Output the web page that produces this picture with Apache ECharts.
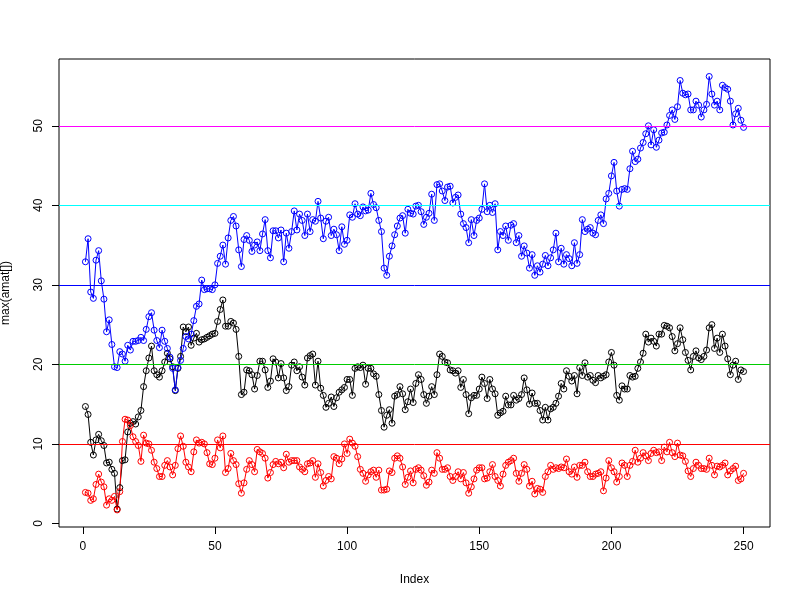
<!DOCTYPE html>
<html>
<head>
<meta charset="utf-8">
<script src="https://cdn.jsdelivr.net/npm/echarts@6/dist/echarts.min.js"></script>
<style>
  html, body { margin: 0; padding: 0; background: #fff; }
  #chart { width: 800px; height: 600px; }
</style>
</head>
<body>
<div id="chart"></div>
<script>
// three series, index 1..250
const blackVals = [
  14.7, 13.7, 10.2, 8.6, 10.5, 11.2, 10.4, 9.8, 7.6, 7.7,
  6.8, 6.3, 1.8, 4.5, 7.9, 8.0, 11.5, 12.6, 12.8, 12.5,
  13.4, 14.2, 17.2, 19.2, 20.8, 22.3, 19.2, 18.7, 18.4, 19.2,
  20.3, 21.4, 20.7, 19.7, 16.7, 19.5, 21.0, 24.7, 24.1, 24.7,
  22.4, 23.3, 23.9, 22.8, 23.1, 23.2, 23.4, 23.6, 23.8, 23.9,
  25.4, 26.9, 28.1, 24.8, 24.8, 25.4, 25.2, 24.4, 21.0, 16.2,
  16.5, 19.3, 19.2, 18.7, 16.9, 18.6, 20.4, 20.4, 19.3, 17.1,
  17.9, 20.7, 20.3, 18.3, 20.1, 18.3, 16.7, 17.2, 19.9, 20.3,
  19.2, 19.7, 18.4, 17.4, 20.8, 21.1, 21.3, 17.4, 20.4, 17.0,
  16.1, 14.6, 15.1, 15.9, 14.7, 15.8, 16.5, 16.8, 17.1, 18.1,
  18.1, 16.1, 19.5, 19.7, 19.6, 19.9, 17.5, 19.5, 19.5, 18.8,
  18.5, 16.2, 14.2, 12.1, 13.6, 14.3, 12.6, 16.0, 16.2, 17.2,
  16.3, 14.3, 15.3, 16.9, 15.2, 17.6, 18.7, 18.1, 16.2, 15.1,
  16.0, 17.2, 16.2, 18.7, 21.3, 21.0, 20.3, 20.2, 19.3, 19.2,
  18.9, 19.2, 17.1, 18.1, 16.2, 13.8, 15.8, 16.1, 16.1, 16.9,
  18.4, 17.6, 15.7, 18.1, 16.9, 16.3, 13.6, 13.9, 14.1, 16.0,
  14.9, 14.9, 16.1, 15.5, 15.7, 16.2, 18.3, 16.8, 15.0, 16.4,
  15.1, 15.1, 14.2, 13.0, 14.6, 13.0, 14.4, 14.6, 15.1, 16.0,
  17.6, 16.9, 19.2, 18.5, 17.9, 18.6, 16.3, 19.6, 18.6, 20.2,
  18.4, 18.6, 18.0, 17.7, 18.6, 18.3, 18.5, 18.7, 20.3, 21.5,
  19.9, 16.1, 15.5, 17.3, 16.9, 16.9, 18.6, 18.4, 18.5, 19.5,
  20.3, 21.4, 23.8, 22.8, 23.3, 22.9, 22.3, 23.8, 23.8, 24.9,
  24.8, 24.6, 23.5, 21.7, 22.6, 24.6, 23.1, 21.5, 20.5, 19.3,
  21.0, 21.7, 20.8, 20.6, 21.0, 21.8, 24.6, 25.0, 22.0, 23.3,
  21.5, 23.8, 22.3, 20.7, 18.7, 19.9, 20.4, 18.1, 19.3, 19.1
];

const redVals = [
  3.9, 3.8, 2.9, 3.1, 4.9, 6.2, 5.2, 4.6, 2.3, 3.1,
  2.9, 3.4, 1.7, 4.0, 10.3, 13.1, 13.0, 12.3, 10.9, 10.3,
  9.8, 7.8, 11.1, 10.1, 10.0, 9.2, 7.7, 6.9, 5.9, 5.9,
  7.3, 7.9, 7.1, 6.1, 7.3, 9.4, 11.0, 9.7, 7.7, 7.1,
  6.5, 9.0, 10.5, 10.1, 10.2, 10.0, 8.9, 7.5, 7.4, 8.2,
  10.5, 9.5, 11.0, 6.4, 6.9, 8.8, 7.9, 7.4, 5.0, 3.8,
  5.1, 6.8, 7.9, 7.4, 6.5, 9.3, 9.0, 8.8, 8.2, 5.7,
  6.4, 7.4, 7.8, 7.5, 7.7, 7.0, 8.7, 7.7, 7.9, 7.9,
  7.9, 7.1, 6.8, 6.5, 7.5, 7.6, 7.9, 5.8, 7.5, 6.4,
  4.7, 5.4, 5.9, 5.6, 8.4, 8.2, 7.5, 8.1, 10.0, 8.8,
  10.6, 10.1, 9.7, 8.4, 6.8, 6.3, 5.3, 6.1, 6.5, 6.7,
  5.8, 6.7, 4.2, 4.2, 4.3, 6.6, 6.4, 8.2, 8.5, 8.2,
  7.1, 4.9, 5.8, 6.6, 5.1, 6.8, 7.0, 6.7, 6.0, 4.8,
  5.2, 6.7, 6.3, 8.9, 8.2, 6.8, 6.8, 7.0, 5.9, 5.4,
  5.9, 6.5, 5.6, 6.4, 5.1, 3.8, 4.6, 5.6, 6.7, 7.0,
  7.0, 5.6, 5.7, 6.5, 7.4, 5.9, 5.4, 4.7, 6.2, 7.3,
  7.7, 7.9, 8.2, 6.3, 5.3, 6.3, 7.4, 6.8, 4.7, 5.3,
  3.7, 4.4, 4.3, 3.9, 5.9, 6.5, 7.3, 6.8, 7.0, 6.9,
  7.1, 7.0, 8.1, 6.5, 6.2, 7.1, 5.8, 7.3, 7.3, 7.7,
  6.5, 5.9, 5.9, 6.2, 6.3, 6.5, 4.1, 5.7, 7.9, 7.0,
  6.5, 5.2, 5.9, 7.6, 7.3, 5.9, 7.3, 7.8, 9.2, 7.7,
  8.2, 8.9, 8.5, 7.9, 8.8, 9.2, 8.9, 9.0, 7.9, 9.6,
  9.0, 10.2, 8.9, 8.4, 10.1, 8.6, 8.5, 7.8, 6.6, 5.9,
  6.9, 7.7, 7.3, 6.9, 6.9, 6.8, 8.2, 7.3, 6.1, 7.2,
  7.1, 7.3, 7.6, 6.1, 6.6, 6.9, 7.2, 5.4, 5.6, 6.3
];

const blueVals = [
  32.9, 35.8, 29.1, 28.3, 33.1, 34.3, 30.5, 28.2, 24.1, 25.6,
  22.5, 19.7, 19.6, 21.6, 21.3, 20.4, 22.4, 21.8, 22.9, 22.9,
  23.0, 23.4, 23.0, 24.4, 26.0, 26.5, 24.3, 23.0, 22.1, 24.3,
  22.9, 22.0, 20.9, 19.5, 16.8, 19.6, 20.5, 22.0, 23.5, 23.2,
  23.8, 25.5, 27.3, 27.6, 30.6, 29.4, 29.5, 29.5, 29.4, 30.0,
  32.7, 33.6, 35.0, 32.6, 35.9, 38.1, 38.6, 37.4, 34.4, 32.3,
  35.7, 36.2, 35.6, 34.2, 35.0, 35.4, 34.3, 36.4, 38.2, 34.3,
  33.4, 36.8, 36.8, 35.9, 36.9, 32.9, 36.5, 34.6, 36.7, 39.3,
  36.9, 38.9, 38.1, 36.2, 38.9, 36.7, 38.2, 38.0, 40.5, 38.4,
  35.8, 38.0, 38.5, 36.2, 37.0, 36.3, 34.3, 37.3, 35.1, 35.6,
  38.8, 38.5, 40.2, 38.9, 38.7, 39.8, 39.3, 39.4, 41.5, 40.1,
  39.7, 38.1, 36.7, 32.1, 31.2, 33.6, 34.9, 36.3, 37.4, 38.4,
  38.7, 36.5, 39.5, 39.0, 38.9, 39.9, 40.0, 39.2, 37.6, 38.5,
  39.0, 41.4, 38.1, 42.6, 42.7, 41.8, 40.6, 42.3, 42.4, 40.3,
  41.0, 41.3, 38.9, 37.7, 37.2, 35.3, 38.2, 36.2, 38.1, 38.4,
  39.5, 42.7, 39.2, 40.0, 39.1, 40.2, 34.4, 36.7, 36.2, 37.4,
  35.6, 37.5, 37.7, 35.3, 36.2, 33.6, 34.9, 34.0, 32.1, 33.8,
  31.2, 32.4, 31.6, 32.6, 33.7, 32.4, 33.4, 34.4, 36.5, 32.9,
  34.6, 32.6, 33.8, 33.3, 32.4, 35.3, 32.7, 33.8, 38.2, 36.7,
  37.0, 37.2, 36.5, 36.3, 38.1, 38.8, 37.7, 40.8, 41.5, 43.7,
  45.4, 41.8, 39.9, 42.0, 42.1, 42.0, 44.6, 46.8, 45.5, 45.8,
  47.2, 47.9, 49.0, 50.0, 47.6, 49.5, 47.3, 48.2, 49.1, 49.2,
  50.1, 51.3, 52.0, 50.8, 52.4, 55.7, 54.1, 53.9, 54.0, 52.0,
  52.0, 53.1, 52.6, 51.1, 52.0, 52.7, 56.2, 54.0, 52.6, 53.1,
  52.0, 55.1, 54.8, 54.6, 53.1, 50.1, 51.5, 52.2, 50.7, 49.8
];

const xTicks = [0, 50, 100, 150, 200, 250];
const yTicks = [0, 10, 20, 30, 40, 50];
const refLevels = [10, 20, 30, 40, 50];
const refColors = ['#FF0000', '#00CD00', '#0000FF', '#00FFFF', '#FF00FF'];

const chart = echarts.init(document.getElementById('chart'), null, { renderer: 'canvas' });

function toPoints(vals) {
  return vals.map((v, i) => [i + 1, v]);
}

function mkSeries(name, vals, col) {
  return {
    name: name,
    type: 'line',
    data: toPoints(vals),
    symbol: 'circle',
    symbolSize: 6,
    showAllSymbol: true,
    lineStyle: { color: col, width: 1 },
    itemStyle: { color: 'transparent', borderColor: col, borderWidth: 1 },
    emphasis: { disabled: true },
    z: 2
  };
}

const txt = { fontFamily: 'Liberation Sans, Arial, sans-serif', fontSize: 12, color: '#000' };

const series = [
  mkSeries('black', blackVals, '#000000'),
  mkSeries('red', redVals, '#FF0000'),
  mkSeries('blue', blueVals, '#0000FF')
];

// abline(h = 10 * 1:5, col = 2:6)
series.push({
  type: 'line',
  data: [],
  z: 3,
  markLine: {
    silent: true,
    symbol: 'none',
    label: { show: false },
    animation: false,
    data: refLevels.map((h, k) => ({
      yAxis: h,
      lineStyle: { color: refColors[k], width: 1, type: 'solid' }
    }))
  }
});

chart.setOption({
  animation: false,
  backgroundColor: '#fff',
  grid: {
    left: 59, right: 30, top: 59, bottom: 73,
    show: true, borderColor: '#000', borderWidth: 1,
    backgroundColor: 'transparent',
    outerBoundsMode: 'none'
  },
  xAxis: {
    type: 'value',
    min: -9, max: 260,
    name: 'Index',
    nameLocation: 'middle',
    nameGap: 47,
    nameTextStyle: txt,
    axisLine: { show: false, onZero: false },
    splitLine: { show: false },
    axisTick: { show: true, inside: false, length: 7, lineStyle: { color: '#000' }, customValues: xTicks },
    axisLabel: Object.assign({ margin: 14, customValues: xTicks }, txt)
  },
  yAxis: {
    type: 'value',
    min: -0.45, max: 58.4,
    name: 'max(amat[])',
    nameLocation: 'middle',
    nameGap: 47,
    nameRotate: 90,
    nameTextStyle: txt,
    axisLine: { show: false, onZero: false },
    splitLine: { show: false },
    axisTick: { show: true, inside: false, length: 7, lineStyle: { color: '#000' }, customValues: yTicks },
    axisLabel: Object.assign({ margin: 14, rotate: 90, customValues: yTicks }, txt)
  },
  series: series
});
</script>
</body>
</html>
